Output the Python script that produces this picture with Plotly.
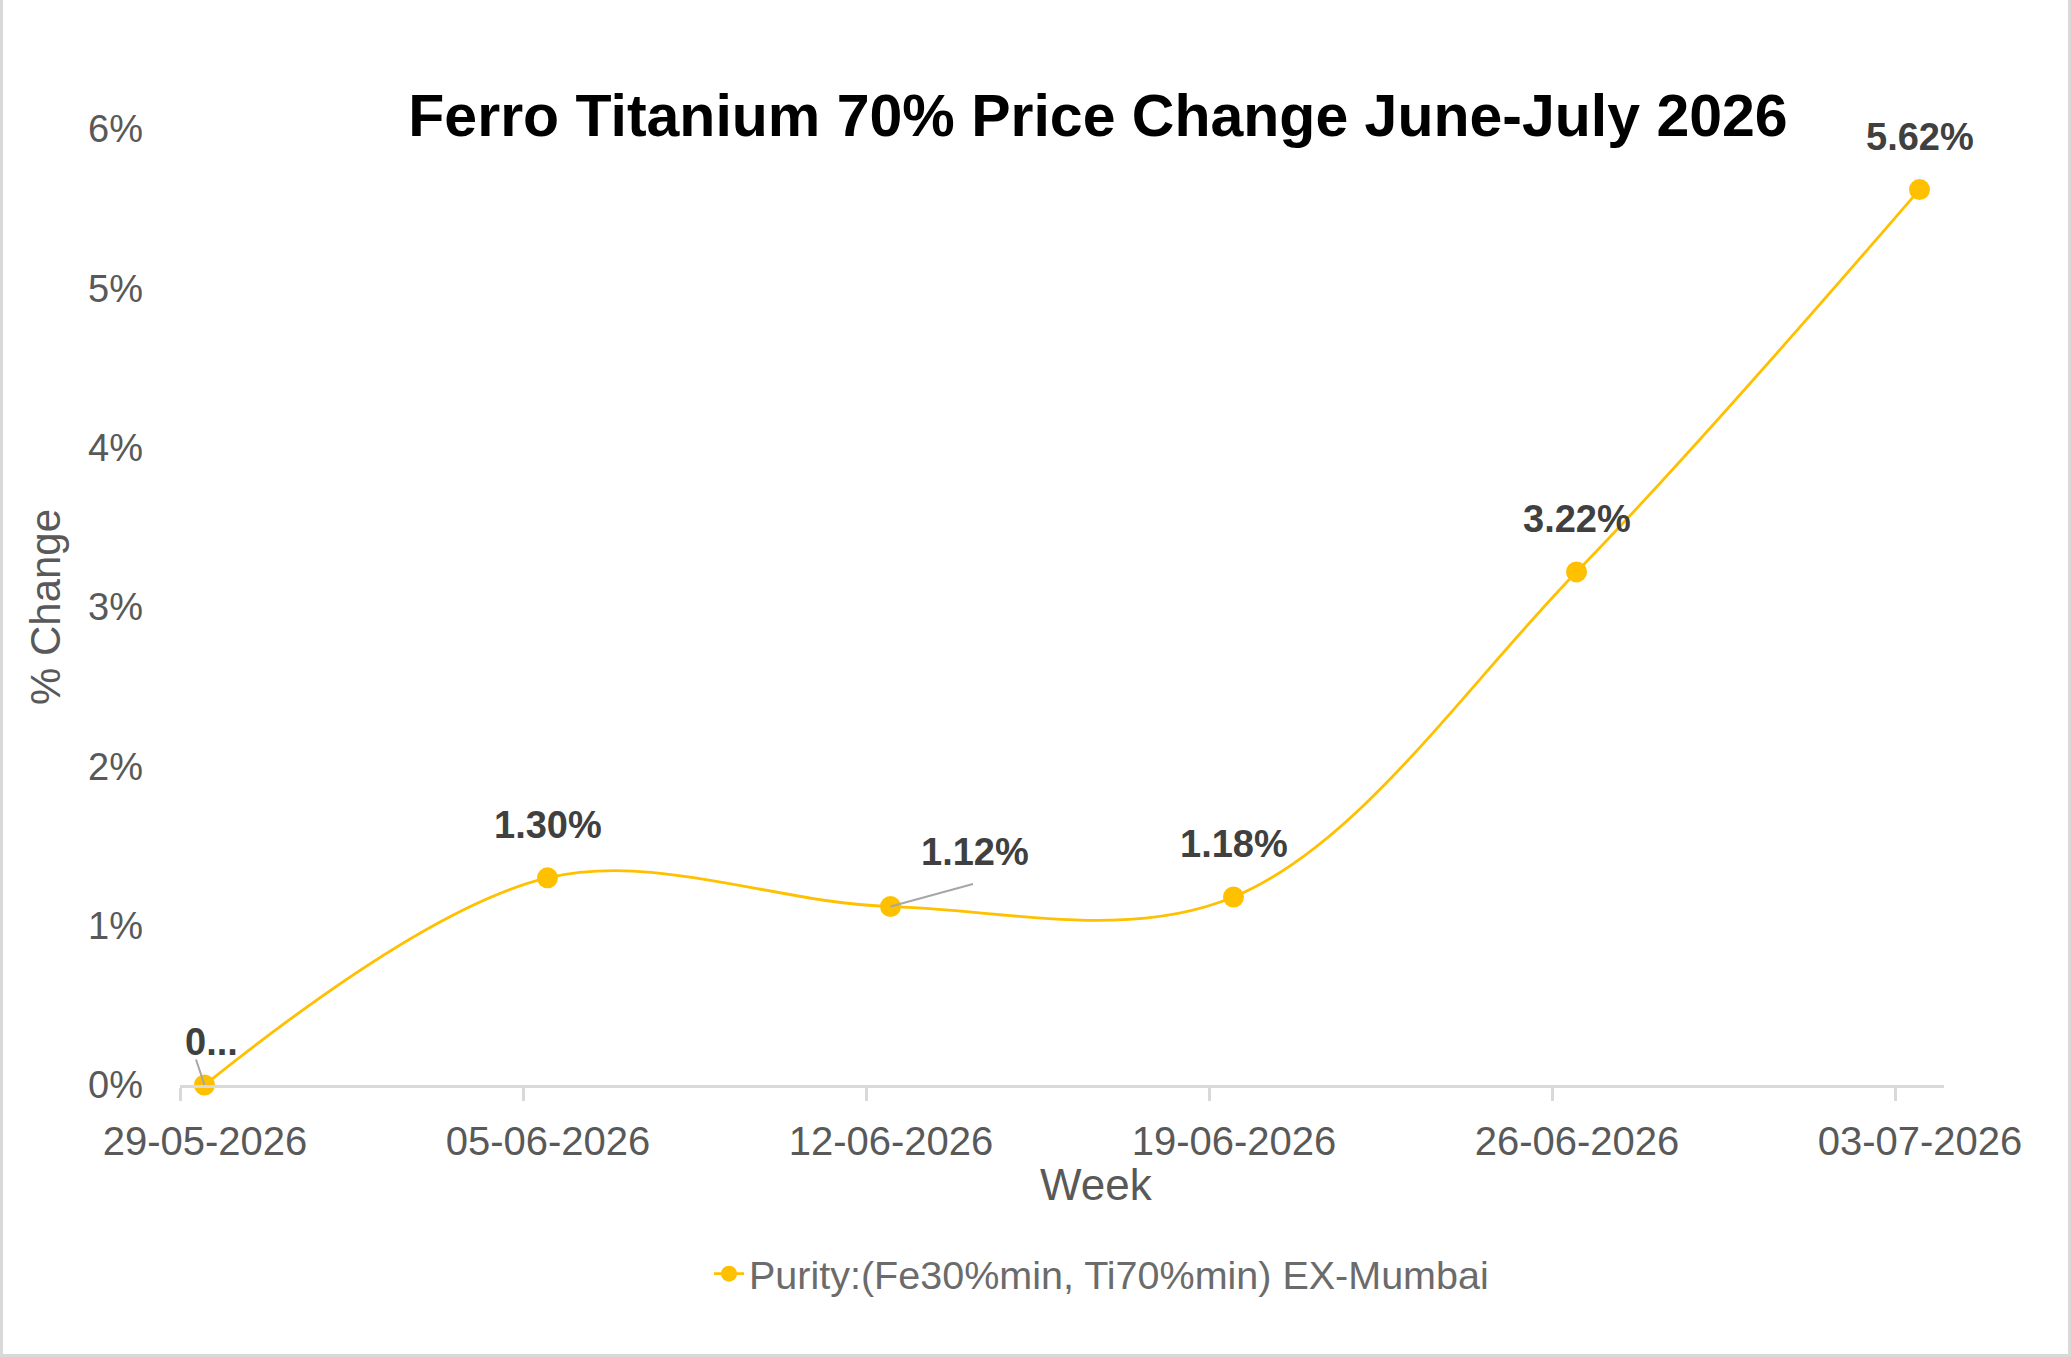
import pandas as pd
import plotly.graph_objects as go

# ---- data ----
weeks = ["29-05-2026", "05-06-2026", "12-06-2026", "19-06-2026", "26-06-2026", "03-07-2026"]
pct_change = [0.0, 1.30, 1.12, 1.18, 3.22, 5.62]          # percent
label_text = ["0...", "1.30%", "1.12%", "1.18%", "3.22%", "5.62%"]
series_name = "Purity:(Fe30%min, Ti70%min) EX-Mumbai"
title_text = "Ferro Titanium 70% Price Change June-July 2026"
x_title = "Week"
y_title = "% Change"
y_ticks = [0, 1, 2, 3, 4, 5, 6]

# ---- layout constants ----
W, H = 2071, 1357
ML, MR, MT, MB = 180, 127, 129, 272
PW, PH = W - ML - MR, H - MT - MB

GOLD = "#FFC000"
TXT = "#595959"
LBL = "#404040"
AXC = "#D9D9D9"
FONT = "Liberation Sans, Arial, sans-serif"

day0 = pd.to_datetime(weeks, format="%d-%m-%Y")
xpts = day0 + pd.Timedelta(hours=12)
xstr = [d.strftime("%Y-%m-%d %H:%M") for d in xpts]
yvals = [v / 100 for v in pct_change]

fig = go.Figure()
fig.add_trace(go.Scatter(
    x=xstr, y=yvals, name=series_name, mode="lines+markers",
    line=dict(color=GOLD, width=2.8, shape="spline", smoothing=1.0),
    marker=dict(color=GOLD, size=21),
    cliponaxis=False, showlegend=True,
))

# data labels (offsets in px)
shifts = {
    0: (7, 43),
    1: (0, 53),
    2: (84, 55),
    3: (0, 53),
    4: (0, 53),
    5: (0, 53),
}
for i, (xx, yy, t) in enumerate(zip(xstr, yvals, label_text)):
    dx, dy = shifts[i]
    fig.add_annotation(x=xx, y=yy, text=f"<b>{t}</b>", showarrow=False,
                       xshift=dx, yshift=dy,
                       font=dict(family=FONT, size=38, color=LBL))
# leader lines
leaders = {0: (-9, -27), 2: (84, -23)}
for i, (ax, ay) in leaders.items():
    fig.add_annotation(x=xstr[i], y=yvals[i], text="", showarrow=True,
                       arrowhead=0, arrowwidth=2, arrowcolor="#A6A6A6",
                       ax=ax, ay=ay, standoff=0, startstandoff=0)

# x axis title
fig.add_annotation(xref="paper", yref="paper", x=(1096 - ML) / PW,
                   y=-(1184 - (H - MB)) / PH, xanchor="center", yanchor="middle",
                   text=x_title, showarrow=False,
                   font=dict(family=FONT, size=44, color=TXT))

# outer border
fig.add_shape(type="rect", xref="paper", yref="paper",
              x0=(1.5 - ML) / PW, x1=(W - 1.5 - ML) / PW,
              y0=-(MB - 1.5) / PH, y1=(H - MT - 1.5) / PH,
              line=dict(color=AXC, width=3), fillcolor="rgba(0,0,0,0)", layer="below")

fig.update_layout(
    width=W, height=H,
    margin=dict(l=ML, r=MR, t=MT, b=MB, autoexpand=False),
    paper_bgcolor="white", plot_bgcolor="white",
    font=dict(family=FONT, color=TXT),
    title=dict(text=f"<b>{title_text}</b>", x=1098 / W, xanchor="center",
               y=1 - 115 / H, yanchor="middle", yref="container",
               font=dict(family=FONT, size=59, color="#000000")),
    xaxis=dict(
        type="date",
        range=["2026-05-29 00:00", "2026-07-04 00:00"],
        tickvals=[d.strftime("%Y-%m-%d") for d in day0], ticktext=weeks,
        ticklabelshift=25, ticklabelstandoff=6,
        ticks="outside", ticklen=13, tickwidth=2.5, tickcolor=AXC,
        showline=True, linecolor=AXC, linewidth=2.5,
        showgrid=False, zeroline=False,
        tickfont=dict(size=40, color=TXT),
        automargin=False,
    ),
    yaxis=dict(
        range=[0, 0.06], tickvals=[v / 100 for v in y_ticks],
        ticktext=[f"{v}%" for v in y_ticks],
        showgrid=False, zeroline=False, showline=False, ticks="",
        ticklabelstandoff=36,
        tickfont=dict(size=38, color=TXT),
        title=dict(text=y_title, font=dict(size=42, color=TXT), standoff=14),
        automargin=False,
    ),
    legend=dict(orientation="h", x=(709 - ML) / PW, xanchor="left",
                y=-(1274 - (H - MB)) / PH, yanchor="middle",
                font=dict(size=39.5, color="#6B6B6B"),
                bgcolor="rgba(0,0,0,0)"),
)

fig.write_html("out.html")
